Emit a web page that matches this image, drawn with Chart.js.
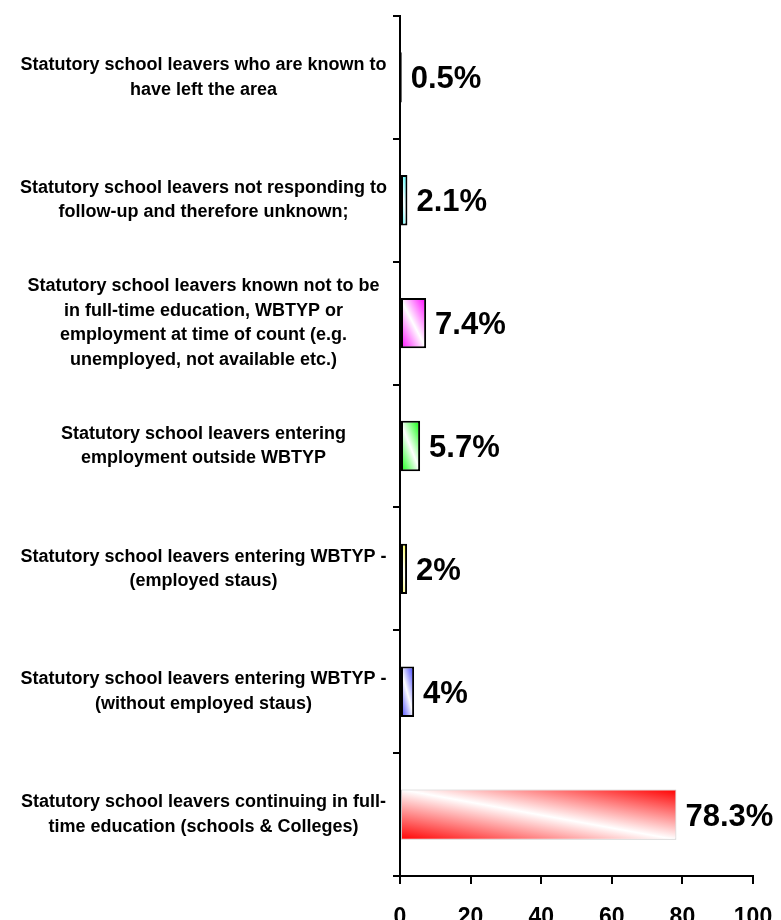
<!DOCTYPE html>
<html lang="en">
<head>
  <meta charset="UTF-8">
  <title>Statutory school leavers</title>
  <script src="https://cdn.jsdelivr.net/npm/chart.js"></script>
  <style>
    * { box-sizing: border-box; margin: 0; padding: 0; }
    body { background: #fff; overflow: hidden; width: 781px; height: 920px; }
    canvas { display: block; }
  </style>
</head>
<body>
  <canvas id="leaversChart" width="781" height="920"></canvas>

  <script>
    const categories = [
      ['Statutory school leavers who are known to', 'have left the area'],
      ['Statutory school leavers not responding to', 'follow-up and therefore unknown;'],
      ['Statutory school leavers known not to be', 'in full-time education, WBTYP or', 'employment at time of count (e.g.', 'unemployed, not available etc.)'],
      ['Statutory school leavers entering', 'employment outside WBTYP'],
      ['Statutory school leavers entering WBTYP -', '(employed staus)'],
      ['Statutory school leavers entering WBTYP -', '(without employed staus)'],
      ['Statutory school leavers continuing in full-', 'time education (schools & Colleges)']
    ];
    const values = [0.5, 2.1, 7.4, 5.7, 2, 4, 78.3];
    const valueLabels = ['0.5%', '2.1%', '7.4%', '5.7%', '2%', '4%', '78.3%'];
    const xTicks = [0, 20, 40, 60, 80, 100];

    const barColors = ['#000000', '#00ffff', '#ff00ff', '#00ff00', '#ffff00', '#3333ff', '#ff0000'];
    const borderColors = ['#000', '#000', '#000', '#000', '#000', '#000', '#c8c8c8'];
    const borderWidths = [2, 2, 2, 2, 2, 2, 1];
    const BAR_PCT = 0.41;
    const FONT = "'Liberation Sans', Arial, sans-serif";

    // diagonal gradient: colour in two corners, white along the other diagonal
    function barGradient(ctx) {
      const chart = ctx.chart;
      const i = ctx.dataIndex;
      const xs = chart.scales.x, ys = chart.scales.y;
      if (ctx.type !== 'data' || !xs || !ys || !chart.chartArea) return barColors[i];
      const x0 = xs.getPixelForValue(0);
      const x1 = xs.getPixelForValue(values[i]);
      const cy = ys.getPixelForValue(i);
      const h = Math.abs(ys.getPixelForValue(1) - ys.getPixelForValue(0)) * BAR_PCT;
      const w = Math.max(x1 - x0, 1);
      const cx = (x0 + x1) / 2;
      const k = (w * h) / (w * w + h * h);
      const g = chart.ctx.createLinearGradient(cx - h * k, cy + w * k, cx + h * k, cy - w * k);
      g.addColorStop(0, barColors[i]);
      g.addColorStop(0.5, i === 0 ? barColors[i] : '#ffffff');
      g.addColorStop(1, barColors[i]);
      return g;
    }

    const valueLabelPlugin = {
      id: 'valueLabels',
      afterDatasetsDraw(chart) {
        const ctx = chart.ctx;
        const meta = chart.getDatasetMeta(0);
        ctx.save();
        ctx.font = 'bold 31px ' + FONT;
        ctx.fillStyle = '#000';
        ctx.textAlign = 'left';
        ctx.textBaseline = 'alphabetic';
        meta.data.forEach((bar, i) => {
          ctx.fillText(valueLabels[i], bar.x + 9, bar.y + 11);
        });
        ctx.restore();
      }
    };

    new Chart(document.getElementById('leaversChart'), {
      type: 'bar',
      data: {
        labels: categories,
        datasets: [{
          data: values,
          backgroundColor: barGradient,
          borderColor: borderColors,
          borderWidth: borderWidths,
          borderSkipped: false,
          barPercentage: BAR_PCT,
          categoryPercentage: 1
        }]
      },
      options: {
        indexAxis: 'y',
        responsive: false,
        animation: false,
        layout: { padding: { top: 16, right: 28, left: 0, bottom: 0 } },
        plugins: {
          legend: { display: false },
          tooltip: { enabled: false }
        },
        scales: {
          x: {
            min: 0,
            max: 100,
            afterFit: scale => {
              scale.height = 44;
              scale.paddingLeft = 0;
              scale.paddingRight = 0;
            },
            afterBuildTicks: scale => { scale.ticks = xTicks.map(v => ({ value: v })); },
            border: { color: '#000', width: 2 },
            grid: { drawOnChartArea: false, color: '#000', lineWidth: 2, tickLength: 8 },
            ticks: {
              color: '#000',
              padding: 20,
              maxRotation: 0,
              font: { family: FONT, size: 23, weight: 'bold' }
            }
          },
          y: {
            afterFit: scale => {
              scale.width = 400;
              scale.paddingTop = 0;
              scale.paddingBottom = 0;
            },
            border: { color: '#000', width: 2 },
            grid: { drawOnChartArea: false, color: '#000', lineWidth: 2, tickLength: 7, offset: true },
            ticks: {
              color: '#000',
              padding: 6,
              crossAlign: 'center',
              font: { family: FONT, size: 18, weight: 'bold', lineHeight: 1.36 }
            }
          }
        }
      },
      plugins: [valueLabelPlugin]
    });
  </script>
</body>
</html>
